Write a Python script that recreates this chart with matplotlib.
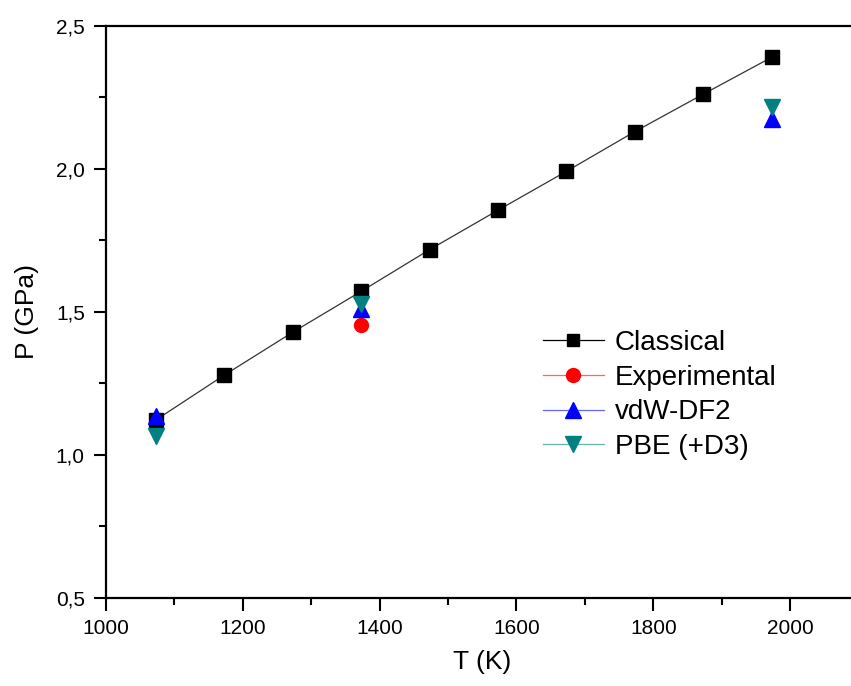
import matplotlib.pyplot as plt
from matplotlib.lines import Line2D
from matplotlib.ticker import MultipleLocator, FuncFormatter

plt.rcParams['font.family'] = ['Liberation Sans', 'DejaVu Sans']

temps = [1073, 1173, 1273, 1373, 1473, 1573, 1673, 1773, 1873, 1973]
classical = [1.121, 1.278, 1.428, 1.571, 1.717, 1.855, 1.991, 2.130, 2.261, 2.390]

exp_t = [1373]
experimental = [1.452]

dft_t = [1073, 1373, 1973]
vdw_df2 = [1.134, 1.510, 2.173]
pbe_d3 = [1.064, 1.526, 2.216]

teal = '#008080'

fig = plt.figure(figsize=(8.51, 6.86), dpi=100)
ax = fig.add_axes([0.1242, 0.1287, 0.885, 0.8338])

ax.plot(temps, classical, color='#333333', lw=0.9, marker='s', ms=10,
        mfc='black', mec='black', zorder=3)
ax.plot(exp_t, experimental, ls='none', marker='o', ms=10, color='red', zorder=3)
ax.plot(dft_t, vdw_df2, ls='none', marker='^', ms=11, color='blue', zorder=3)
ax.plot(dft_t, pbe_d3, ls='none', marker='v', ms=11, color=teal, zorder=3)

handles = [
    Line2D([], [], color='black', lw=0.9, marker='s', ms=9, mfc='black'),
    Line2D([], [], color='#ff6666', lw=0.9, marker='o', ms=10, mfc='red', mec='red'),
    Line2D([], [], color='#6666ff', lw=0.9, marker='^', ms=11, mfc='blue', mec='blue'),
    Line2D([], [], color='#66b3b3', lw=0.9, marker='v', ms=11, mfc=teal, mec=teal),
]
ax.legend(handles, ['Classical', 'Experimental', 'vdW-DF2', 'PBE (+D3)'],
          loc='upper left', bbox_to_anchor=(0.562, 0.492), frameon=False,
          borderpad=0, fontsize=20, handlelength=2.2, handletextpad=0.4,
          labelspacing=0.31)

ax.set_xlim(1000, 2100)
ax.set_ylim(0.5, 2.5)
ax.xaxis.set_major_locator(MultipleLocator(200))
ax.xaxis.set_minor_locator(MultipleLocator(100))
ax.yaxis.set_major_locator(MultipleLocator(0.5))
ax.yaxis.set_minor_locator(MultipleLocator(0.25))
ax.yaxis.set_major_formatter(FuncFormatter(lambda v, p: f'{v:.1f}'.replace('.', ',')))

ax.tick_params(which='major', direction='out', length=9, width=1.5, labelsize=15, pad=6)
ax.tick_params(which='minor', direction='out', length=5, width=1.5)
for s in ax.spines.values():
    s.set_linewidth(1.6)

ax.set_xlabel('T (K)', fontsize=19, labelpad=9)
ax.set_ylabel('P (GPa)', fontsize=19, labelpad=12)

fig.savefig('out.png', dpi=100)
